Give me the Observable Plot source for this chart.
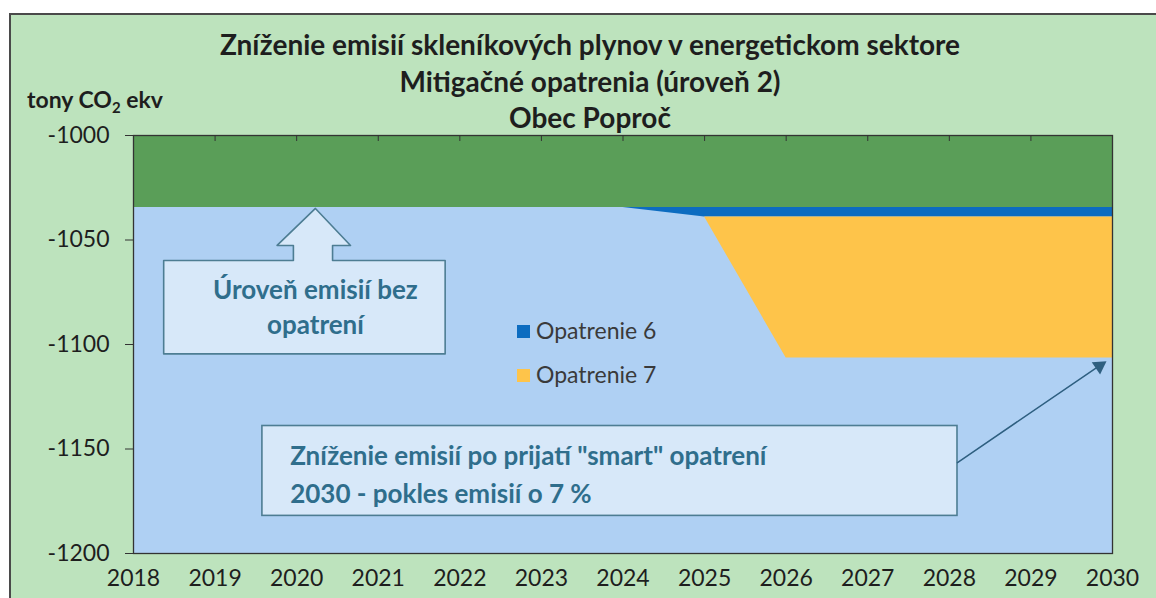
<!DOCTYPE html>
<html><head><meta charset="utf-8">
<script src="https://cdn.jsdelivr.net/npm/d3@7"></script>
<script src="https://cdn.jsdelivr.net/npm/@observablehq/plot@0.6"></script>
<style>
body{margin:0;background:#fff;width:1156px;height:598px;overflow:hidden;position:relative;font-family:Lato,"Open Sans",sans-serif;}
#bg{position:absolute;left:9px;top:13px;width:1147px;height:585px;background:#bde3bd;border-left:2px solid #4a4a4a;border-top:2px solid #4a4a4a;}
#title{position:absolute;left:0;top:26px;width:1180px;text-align:center;font-weight:bold;font-size:28px;line-height:36.5px;color:#1e1e1e;}
#ylab{position:absolute;left:27px;top:85px;font-weight:bold;font-size:23px;color:#1e1e1e;}
#ylab sub{font-size:15px;vertical-align:-5px;line-height:0;}
#chart{position:absolute;left:0;top:0;}
.leg{position:absolute;font-size:23px;color:#3a3a3a;white-space:nowrap;line-height:28px;}
.leg span{display:inline-block;width:13px;height:13px;margin-right:6px;vertical-align:1px;}
</style></head>
<body>
<div id="bg"></div>
<div id="title">Zníženie emisií skleníkových plynov v energetickom sektore<br>Mitigačné opatrenia (úroveň 2)<br>Obec Poproč</div>
<div id="ylab">tony CO<sub>2</sub> ekv</div>
<div id="chart"></div>
<div class="leg" style="left:517px;top:316px"><span style="background:#0c6cc0"></span>Opatrenie 6</div>
<div class="leg" style="left:517px;top:360px"><span style="background:#fec44a"></span>Opatrenie 7</div>
<script>
const years = [2018,2019,2020,2021,2022,2023,2024,2025,2026,2027,2028,2029,2030];
const baseline = [-1034.5,-1034.5,-1034.5,-1034.5,-1034.5,-1034.5,-1034.5,-1034.5,-1034.5,-1034.5,-1034.5,-1034.5,-1034.5];
const op6 = [0,0,0,0,0,0,0,4.5,4.5,4.5,4.5,4.5,4.5];
const op7 = [0,0,0,0,0,0,0,0,67.5,67.5,67.5,67.5,67.5];
const yTicks = [-1000,-1050,-1100,-1150,-1200];
const seriesNames = ["Opatrenie 6","Opatrenie 7"];

// annotation shapes (data coordinates)
const callout1 = [
  [2018.37,-1059.8],[2019.96,-1059.8],[2019.96,-1052.6],[2019.76,-1052.6],[2020.23,-1034.9],
  [2020.66,-1052.6],[2020.44,-1052.6],[2020.44,-1059.8],[2021.82,-1059.8],[2021.82,-1104.5],
  [2018.37,-1104.5],[2018.37,-1059.8]
];
const box2 = [{x1:2019.58,x2:2028.1,y1:-1139,y2:-1182}];
const text1 = [{x:2020.23,y:-1081.3,t:"Úroveň emisií bez\nopatrení"}];
const text2 = [{x:2019.92,y:-1160.8,t:"Zníženie emisií po prijatí \"smart\" opatrení\n2030 - pokles emisií o 7 %"}];
const arrow2 = [{x1:2028.1,y1:-1156.5,x2:2029.86,y2:-1109.6}];
const arrowHead = [{x:2029.84,y:-1110.3}];

const rows = years.map((year,i)=>{
  const b = baseline[i];
  const l6 = b - op6[i];
  const l7 = l6 - op7[i];
  return {year, b, l6, l7};
});

const plot = Plot.plot({
  width:1156, height:598,
  marginLeft:133, marginRight:44, marginTop:135, marginBottom:45,
  style:{background:"transparent", fontFamily:"Lato, 'Open Sans', sans-serif"},
  x:{domain:[2018,2030]},
  y:{domain:[-1200,-1000]},
  marks:[
    Plot.areaY(rows,{x:"year", y1:-1200, y2:"b", fill:"#afd0f3", curve:"linear"}),
    Plot.areaY(rows,{x:"year", y1:-1000, y2:"b", fill:"#5a9e58", curve:"linear"}),
    Plot.areaY(rows,{x:"year", y1:"b", y2:"l6", fill:"#0c6cc0", curve:"linear"}),
    Plot.areaY(rows,{x:"year", y1:"l6", y2:"l7", fill:"#fec44a", curve:"linear"}),
    Plot.frame({stroke:"#333", strokeWidth:1.3}),
    Plot.axisY({ticks:yTicks, tickSize:8, tickPadding:16, fontSize:23, fill:"#1e1e1e", stroke:"#333", tickFormat:d=>String(d), label:null}),
    Plot.axisX({ticks:years, tickSize:0, tickPadding:16, fontSize:23, fill:"#1e1e1e", tickFormat:d=>String(d), label:null}),
    Plot.axisX({anchor:"top", ticks:years, tickSize:5, dy:5, tickFormat:()=>"", stroke:"#333", label:null}),
    Plot.line(callout1,{x:d=>d[0], y:d=>d[1], fill:"#deecf9", fillOpacity:0.85, stroke:"#4d7d93", strokeWidth:1.6, curve:"linear"}),
    Plot.rect(box2,{x1:"x1",x2:"x2",y1:"y1",y2:"y2", fill:"#deecf9", fillOpacity:0.85, stroke:"#4d7d93", strokeWidth:1.6}),
    Plot.text(text1,{x:"x", y:"y", text:"t", fontSize:26, fontWeight:"bold", fill:"#2f6e8c", lineHeight:1.33, lineAnchor:"middle"}),
    Plot.text(text2,{x:"x", y:"y", text:"t", fontSize:26, fontWeight:"bold", fill:"#2f6e8c", lineHeight:1.46, textAnchor:"start", lineAnchor:"middle"}),
    Plot.arrow(arrow2,{x1:"x1",y1:"y1",x2:"x2",y2:"y2", stroke:"#2e5f80", strokeWidth:1.5, headLength:0, bend:0}),
    Plot.dot(arrowHead,{x:"x", y:"y", symbol:"triangle", rotate:55.7, r:5.5, fill:"#2e5f80", stroke:"none"})
  ]
});
document.getElementById("chart").appendChild(plot);
</script>
</body></html>
